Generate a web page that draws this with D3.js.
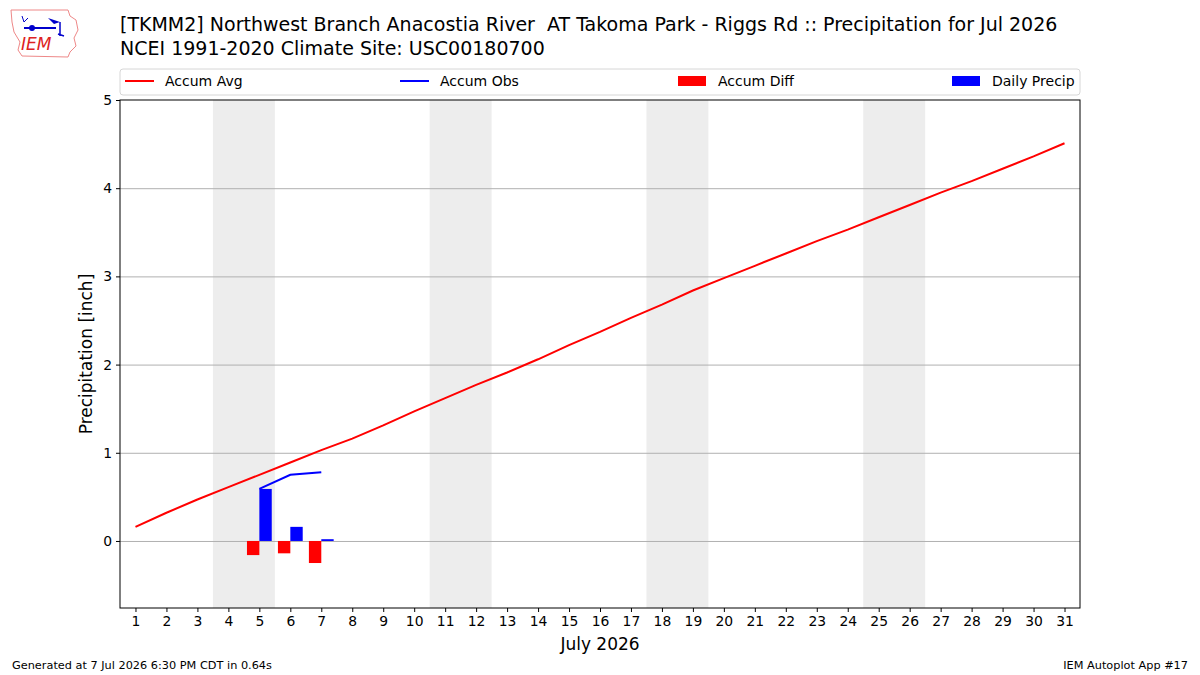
<!DOCTYPE html>
<html>
<head>
<meta charset="utf-8">
<script src="https://cdn.jsdelivr.net/npm/d3@7"></script>
<style>
  body { margin: 0; background: #fff; }
  #chart { width: 1200px; height: 675px; }
  text { font-family: "DejaVu Sans", sans-serif; }
</style>
</head>
<body>
<div id="chart"></div>
<script>
const days = d3.range(1, 32);
const accumAvg = [0.16, 0.32, 0.47, 0.61, 0.75, 0.89, 1.03, 1.16, 1.31, 1.47, 1.62, 1.77, 1.91, 2.06, 2.22, 2.37,
  2.53, 2.68, 2.84, 2.98, 3.12, 3.26, 3.40, 3.53, 3.67, 3.81, 3.95, 4.08, 4.22, 4.36, 4.51];
const obsDays = [5, 6, 7];
const accumObs = [0.59, 0.75, 0.78];
const dailyPrecip = [0.59, 0.16, 0.02];
const accumDiff = [-0.16, -0.14, -0.25];
const weekendStarts = [4, 11, 18, 25];
const yTicks = [0, 1, 2, 3, 4, 5];
const legendItems = [
  { label: 'Accum Avg', color: 'red', kind: 'line' },
  { label: 'Accum Obs', color: 'blue', kind: 'line' },
  { label: 'Accum Diff', color: 'red', kind: 'rect' },
  { label: 'Daily Precip', color: 'blue', kind: 'rect' }
];

const totalW = 1200, totalH = 675;
const margin = { top: 100, right: 120, bottom: 67, left: 120 };
const W = totalW - margin.left - margin.right;
const H = totalH - margin.top - margin.bottom;

const svg = d3.select('#chart').append('svg')
  .attr('width', totalW).attr('height', totalH);

// Logo (simplified)
const logo = svg.append('g').attr('transform', 'translate(8,6)');
logo.append('path')
  .attr('d', 'M3,4 L60,4 L62,10 L68,14 L70,24 L66,32 L68,40 L62,46 L60,51 L14,50 L10,44 L12,36 L6,26 L4,16 Z')
  .attr('fill', 'none').attr('stroke', '#e88').attr('stroke-width', 1);
logo.append('path').attr('d', 'M16,22 L48,22').attr('stroke', '#00c').attr('stroke-width', 2);
logo.append('circle').attr('cx', 24).attr('cy', 22).attr('r', 3).attr('fill', '#00c');
logo.append('path').attr('d', 'M40,12 L52,16 L46,18 Z').attr('fill', '#00c');
logo.append('path').attr('d', 'M52,16 L52,30 M50,28 L56,30').attr('stroke', '#00c').attr('stroke-width', 1.5).attr('fill', 'none');
logo.append('path').attr('d', 'M16,16 L14,10 M16,16 L20,12').attr('stroke', '#00c').attr('stroke-width', 1);
logo.append('text').attr('x', 13).attr('y', 44).attr('font-family', 'Liberation Serif, serif')
  .attr('font-style', 'italic').attr('font-size', 17).attr('fill', '#d22').text('IEM');

// Title
svg.append('text').attr('x', 120).attr('y', 31).attr('font-size', 19).attr('fill', '#000')
  .style('white-space', 'pre')
  .text('[TKMM2] Northwest Branch Anacostia River  AT Takoma Park - Riggs Rd :: Precipitation for Jul 2026');
svg.append('text').attr('x', 120).attr('y', 55).attr('font-size', 19).attr('fill', '#000')
  .text('NCEI 1991-2020 Climate Site: USC00180700');

const g = svg.append('g').attr('transform', `translate(${margin.left},${margin.top})`);

const x = d3.scaleLinear().domain([0.5, 31.5]).range([0, W]);
const y = d3.scaleLinear().domain([-0.76, 5]).range([H, 0]);

// Weekend shading
g.selectAll('rect.wk').data(weekendStarts).join('rect').attr('class', 'wk')
  .attr('x', d => x(d - 0.5)).attr('width', d => x(d + 1.5) - x(d - 0.5))
  .attr('y', 0).attr('height', H).attr('fill', '#ededed');

// Grid
g.append('g')
  .call(d3.axisLeft(y).tickValues(yTicks.slice(0, -1)).tickSize(-W).tickFormat(''))
  .call(ax => ax.select('.domain').remove())
  .call(ax => ax.selectAll('line').attr('stroke', '#b0b0b0').attr('stroke-width', 1));

const bw = 0.4;
// Accum diff bars (left of day)
g.selectAll('rect.diff').data(obsDays).join('rect').attr('class', 'diff')
  .attr('x', d => x(d - bw)).attr('width', d => x(d) - x(d - bw))
  .attr('y', (d, i) => y(Math.max(0, accumDiff[i])))
  .attr('height', (d, i) => Math.abs(y(accumDiff[i]) - y(0)))
  .attr('fill', 'red');
// Daily precip bars (right of day)
g.selectAll('rect.pr').data(obsDays).join('rect').attr('class', 'pr')
  .attr('x', d => x(d)).attr('width', d => x(d + bw) - x(d))
  .attr('y', (d, i) => y(dailyPrecip[i]))
  .attr('height', (d, i) => y(0) - y(dailyPrecip[i]))
  .attr('fill', 'blue');

// Lines
g.append('path').datum(days)
  .attr('fill', 'none').attr('stroke', 'red').attr('stroke-width', 2)
  .attr('d', d3.line().x(d => x(d)).y((d, i) => y(accumAvg[i])));
g.append('path').datum(obsDays)
  .attr('fill', 'none').attr('stroke', 'blue').attr('stroke-width', 2)
  .attr('d', d3.line().x(d => x(d)).y((d, i) => y(accumObs[i])));

// Frame
g.append('rect').attr('width', W).attr('height', H)
  .attr('fill', 'none').attr('stroke', '#000').attr('stroke-width', 1);

// Axes
g.append('g').attr('transform', `translate(0,${H})`)
  .call(d3.axisBottom(x).tickValues(days).tickFormat(d3.format('d')).tickSize(4).tickPadding(4))
  .call(ax => ax.select('.domain').remove())
  .call(ax => ax.selectAll('text').attr('font-size', 13.9).attr('fill', '#000').attr('font-family', 'DejaVu Sans'))
  .call(ax => ax.selectAll('line').attr('stroke', '#000'));
g.append('g')
  .call(d3.axisLeft(y).tickValues(yTicks).tickFormat(d3.format('d')).tickSize(4).tickPadding(4))
  .call(ax => ax.select('.domain').remove())
  .call(ax => ax.selectAll('text').attr('font-size', 13.9).attr('fill', '#000').attr('font-family', 'DejaVu Sans'))
  .call(ax => ax.selectAll('line').attr('stroke', '#000'));

g.append('text').attr('x', W / 2).attr('y', H + 42).attr('text-anchor', 'middle')
  .attr('font-size', 17).text('July 2026');
g.append('text').attr('transform', 'rotate(-90)').attr('x', -H / 2).attr('y', -28)
  .attr('text-anchor', 'middle').attr('font-size', 17).text('Precipitation [inch]');

// Legend
const lg = svg.append('g').attr('transform', 'translate(120,69)');
lg.append('rect').attr('width', W).attr('height', 26).attr('rx', 3)
  .attr('fill', '#fff').attr('stroke', '#d6d6d6');
const colX = [5, 280, 558, 832];
legendItems.forEach((it, i) => {
  const item = lg.append('g').attr('transform', `translate(${colX[i]},12)`);
  if (it.kind === 'line') {
    item.append('line').attr('x1', 0).attr('x2', 29).attr('stroke', it.color).attr('stroke-width', 2);
  } else {
    item.append('rect').attr('x', 0).attr('y', -5).attr('width', 28).attr('height', 10).attr('fill', it.color);
  }
  item.append('text').attr('x', 40).attr('y', 5).attr('font-size', 14).text(it.label);
});

// Footer
svg.append('text').attr('x', 12).attr('y', 669).attr('font-size', 11.3).text('Generated at 7 Jul 2026 6:30 PM CDT in 0.64s');
svg.append('text').attr('x', 1188).attr('y', 669).attr('text-anchor', 'end').attr('font-size', 11.3).text('IEM Autoplot App #17');
</script>
</body>
</html>
